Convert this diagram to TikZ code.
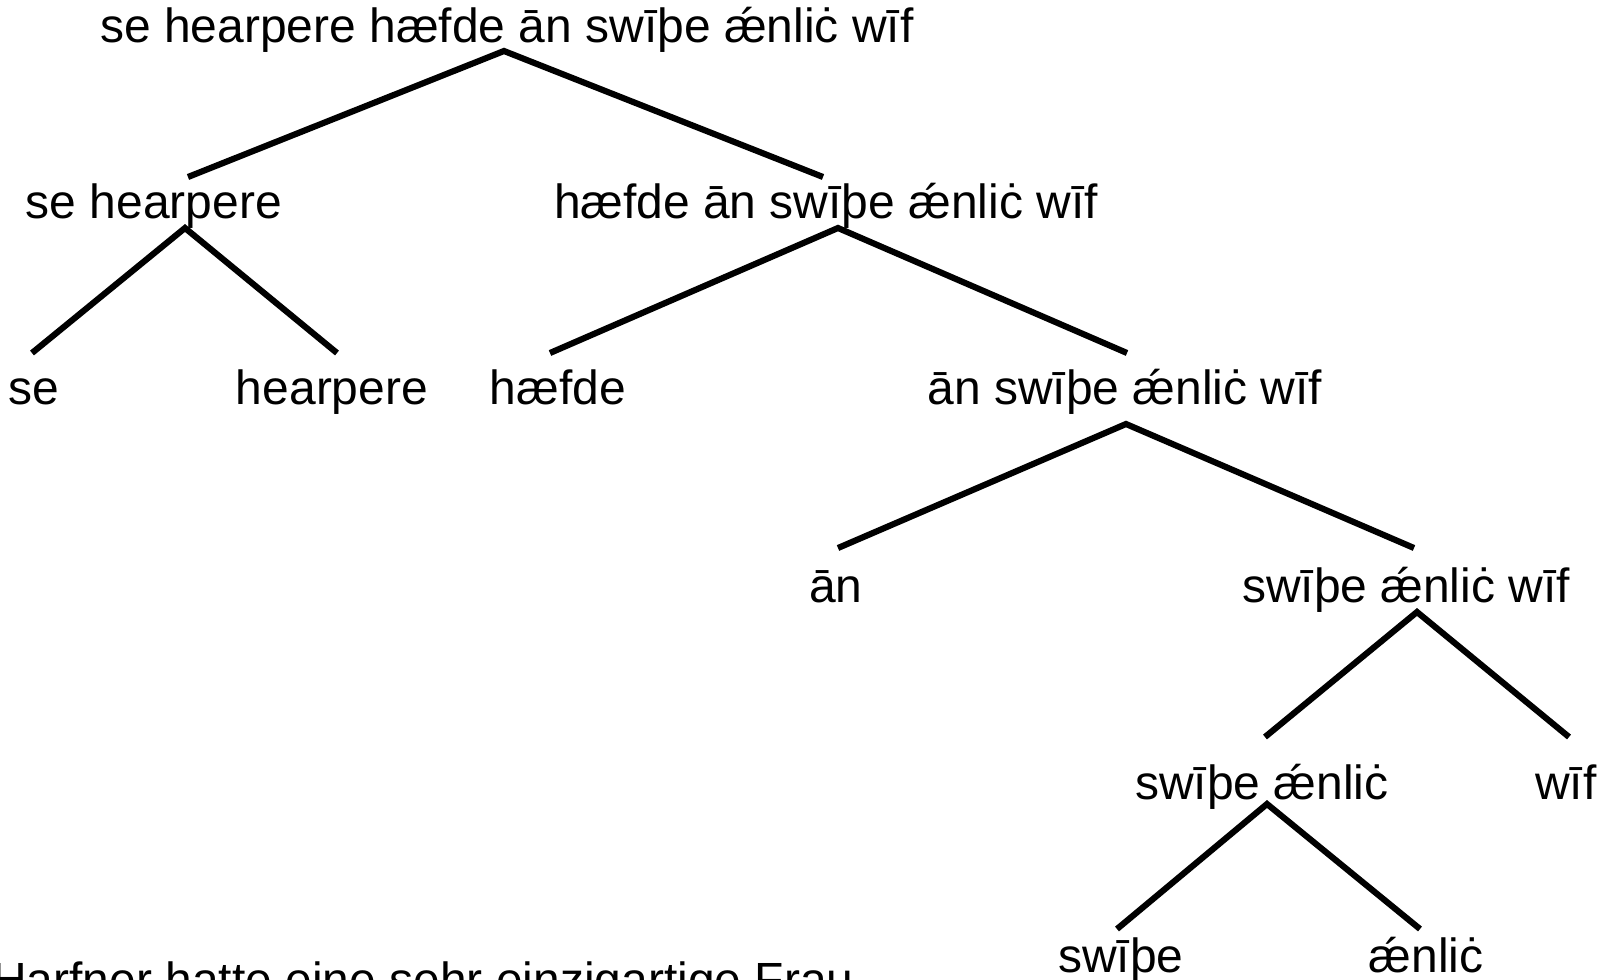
\documentclass[tikz,border=0pt]{standalone}
\usepackage{fontspec}
\setmainfont{Liberation Sans}

\begin{document}
\begin{tikzpicture}[
  word/.style={anchor=base, inner sep=0pt, font=\fontsize{27.3}{32}\selectfont},
  branch/.style={line width=3.5pt}
]
  \useasboundingbox (0,0) rectangle (32.26,-19.6);

  % words of the tree, placed on their baselines
  \node[word] (root) at (10.14,-0.86)  {se hearpere hæfde ān swīþe ǽnliċ wīf};
  \node[word] (sh)   at (3.08,-4.36)   {se hearpere};
  \node[word] (hw)   at (16.52,-4.36)  {hæfde ān swīþe ǽnliċ wīf};
  \node[word] (se)   at (0.68,-8.08)   {se};
  \node[word] (hp)   at (6.64,-8.08)   {hearpere};
  \node[word] (hf)   at (11.16,-8.08)  {hæfde};
  \node[word] (asw)  at (22.50,-8.08)  {ān swīþe ǽnliċ wīf};
  \node[word] (an)   at (16.72,-12.04) {ān};
  \node[word] (sew)  at (28.12,-12.04) {swīþe ǽnliċ wīf};
  \node[word] (sa)   at (25.24,-15.98) {swīþe ǽnliċ};
  \node[word] (wif)  at (31.32,-15.98) {wīf};
  \node[word] (sw)   at (22.42,-19.44) {swīþe};
  \node[word] (ae)   at (28.52,-19.44) {ǽnliċ};
  \node[word, anchor=base west] (de) at (-0.16,-19.92) {Harfner hatte eine sehr einzigartige Frau};

  % branches
  \draw[branch] ([shift={(0.68,0.82)}]sh.base)  -- ([shift={(-0.06,-0.16)}]root.base) -- ([shift={(-0.06,0.82)}]hw.base);
  \draw[branch] ([shift={(-0.04,1.02)}]se.base) -- ([shift={(0.62,-0.20)}]sh.base)    -- ([shift={(0.10,1.02)}]hp.base);
  \draw[branch] ([shift={(-0.16,1.02)}]hf.base) -- ([shift={(0.24,-0.20)}]hw.base)    -- ([shift={(0.04,1.02)}]asw.base);
  \draw[branch] ([shift={(0.04,1.08)}]an.base)  -- ([shift={(0.02,-0.40)}]asw.base)   -- ([shift={(0.16,1.08)}]sew.base);
  \draw[branch] ([shift={(0.06,1.24)}]sa.base)  -- ([shift={(0.22,-0.20)}]sew.base)   -- ([shift={(0.06,1.24)}]wif.base);
  \draw[branch] ([shift={(-0.08,0.86)}]sw.base) -- ([shift={(0.10,-0.10)}]sa.base)    -- ([shift={(-0.12,0.86)}]ae.base);
\end{tikzpicture}
\end{document}
